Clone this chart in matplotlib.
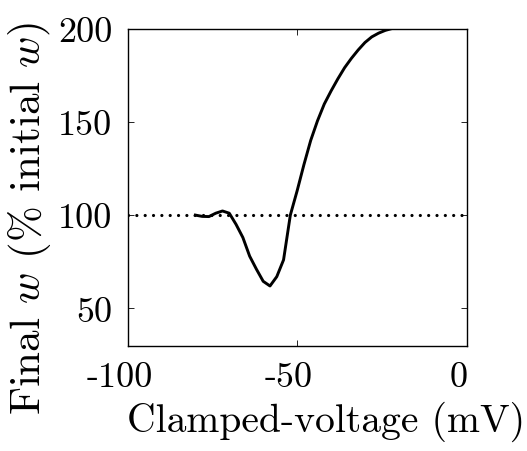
import numpy as np
import matplotlib
matplotlib.use("Agg")
from matplotlib import pyplot as plt
from matplotlib.transforms import ScaledTranslation

plt.rcParams['font.family'] = 'serif'
plt.rcParams['font.serif'] = ['cmr10', 'DejaVu Serif']
plt.rcParams['mathtext.fontset'] = 'cm'
plt.rcParams['axes.unicode_minus'] = False

# clamped voltage (mV) and final weight (% of initial)
voltage = [-80, -78, -76, -74, -72, -70, -68, -66, -64, -62, -60, -58,
           -56, -54, -52, -50, -48, -46, -44, -42, -40, -38, -36, -34,
           -32, -30, -28, -26, -24, -22, -20, -18, -16, -14, -12, -10]
final_w = [100, 99.3, 99.2, 101, 102.2, 101, 95, 88, 78, 71, 64.5, 62,
           67, 76, 100, 113, 127, 140, 150.5, 159.5, 166.5, 173, 179, 184,
           188.5, 192.5, 195.5, 197.5, 199, 200, 200, 200, 200, 200, 200, 200]
baseline = 100

xticks = [-100, -50, 0]
xticklabels = ['-100', '-50', '0']
yticks = [50, 100, 150, 200]
yticklabels = ['50', '100', '150', '200']

fig = plt.figure(figsize=(5.27, 4.52), dpi=100)
ax = fig.add_axes([0.242, 0.233, 0.6436, 0.7017])

# round dots for the 100% reference line
ax.axhline(baseline, color='black', lw=2.3, linestyle=(0, (0.01, 2.6)),
           dash_capstyle='round')
ax.plot(voltage, final_w, color='black', lw=2.1)

ax.set_xlim(-100, 0)
ax.set_ylim(30, 200)
ax.set_xticks(xticks)
ax.set_xticklabels(xticklabels)
ax.set_yticks(yticks)
ax.set_yticklabels(yticklabels)
ax.tick_params(direction='in', top=True, right=True, length=4, width=0.6,
               labelsize=26)
ax.tick_params(axis='y', pad=11)
ax.tick_params(axis='x', pad=11)
# x labels sit a little left of their ticks in the original
shift = ScaledTranslation(-8 / 100, 0, fig.dpi_scale_trans)
for lab in ax.get_xticklabels():
    lab.set_transform(lab.get_transform() + shift)
for s in ax.spines.values():
    s.set_linewidth(1.0)

ax.set_xlabel('Clamped-voltage (mV)', fontsize=28.5)
ax.xaxis.set_label_coords(0.585, -0.174)
ax.set_ylabel('Final $w$ (% initial $w$)', fontsize=31)
ax.yaxis.set_label_coords(-0.22, 0.403)

fig.savefig('out.png', dpi=100)
